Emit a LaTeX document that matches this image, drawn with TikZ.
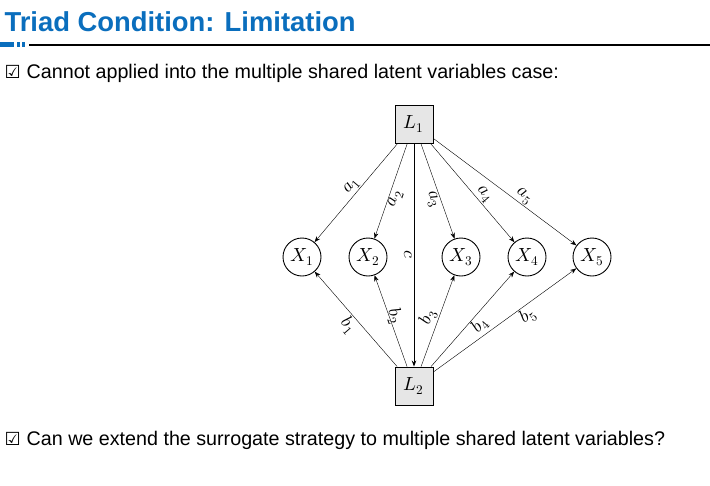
\documentclass[tikz,border=0pt]{standalone}
\usepackage{fontspec}
\usepackage{unicode-math}
\setmainfont{Liberation Sans}
\setmathfont{Latin Modern Math}
\newfontfamily\boxfont{DejaVu Sans}
\usetikzlibrary{arrows.meta}
\definecolor{titleblue}{HTML}{0A6EBD}
\definecolor{boxgray}{HTML}{E6E6E6}

\tikzset{
  latent/.style={draw, fill=boxgray, minimum size=38pt, inner sep=0pt, line width=0.9pt, font=\fontsize{19}{19}\selectfont},
  observed/.style={draw, circle, minimum size=38pt, inner sep=0pt, line width=0.9pt, font=\fontsize{19}{19}\selectfont},
  coef/.style={sloped, font=\fontsize{18}{18}\selectfont, inner sep=1pt},
  bodytext/.style={anchor=base west, font=\fontsize{19.7}{20}\selectfont}
}

\begin{document}
\begin{tikzpicture}[x=1pt, y=-1pt, >={Stealth[length=6pt, width=4.5pt]}]
                        \useasboundingbox (0,0) rectangle (710,485);

                        % heading
                        \node [anchor=base west, font=\fontsize{27.4}{28}\bfseries\selectfont, text=titleblue] (title) at (1,31) {Triad Condition: Limitation};
                        \fill [titleblue] (0,42) rectangle (14,47);
                        \fill [titleblue] (17,42) rectangle (20,47);
                        \fill [titleblue] (22,42) rectangle (25,47);
                        \draw [line width=1.6pt] (29,45) -- (710,45);

                        \node [bodytext] (q1) at (1,78) {{\boxfont\fontsize{18}{18}\selectfont ☑}\hspace{6pt}Cannot applied into the multiple shared latent variables case:};
                        \node [bodytext] (q2) at (1,445) {{\boxfont\fontsize{18}{18}\selectfont ☑}\hspace{6pt}Can we extend the surrogate strategy to multiple shared latent variables?};

                        % latent variables
                        \node [latent] (L1) at (414,124) {$L_1$};
                        \node [latent] (L2) at (414,386) {$L_2$};

                        % observed variables
                        \node [observed] (X1) at (302,257) {$X_1$};
                        \node [observed] (X2) at (368,257) {$X_2$};
                        \node [observed] (X3) at (461,257) {$X_3$};
                        \node [observed] (X4) at (527,257) {$X_4$};
                        \node [observed] (X5) at (592,257) {$X_5$};

                        \draw[->] (L1) -- node [coef, above, pos=0.48] {$a_1$} (X1);
                        \draw[->] (L1) -- node [coef, below, pos=0.56] {$a_2$} (X2);
                        \draw[->] (L1) -- node [coef, below, pos=0.56] {$a_3$} (X3);
                        \draw[->] (L1) -- node [coef, above, pos=0.57] {$a_4$} (X4);
                        \draw[->] (L1) -- node [coef, above, pos=0.6] {$a_5$} (X5);
                        \draw[->, line width=0.8pt] (L1) -- node [coef, below, pos=0.5] {$c$} (L2);

                        \draw[->] (L2) -- node [coef, below, pos=0.5] {$b_1$} (X1);
                        \draw[->] (L2) -- node [coef, above=-3pt, pos=0.53, inner sep=0pt] {$b_2$} (X2);
                        \draw[->] (L2) -- node [coef, above, pos=0.5] {$b_3$} (X3);
                        \draw[->] (L2) -- node [coef, below, pos=0.5] {$b_4$} (X4);
                        \draw[->] (L2) -- node [coef, below, pos=0.62] {$b_5$} (X5);
                    \end{tikzpicture}
\end{document}
